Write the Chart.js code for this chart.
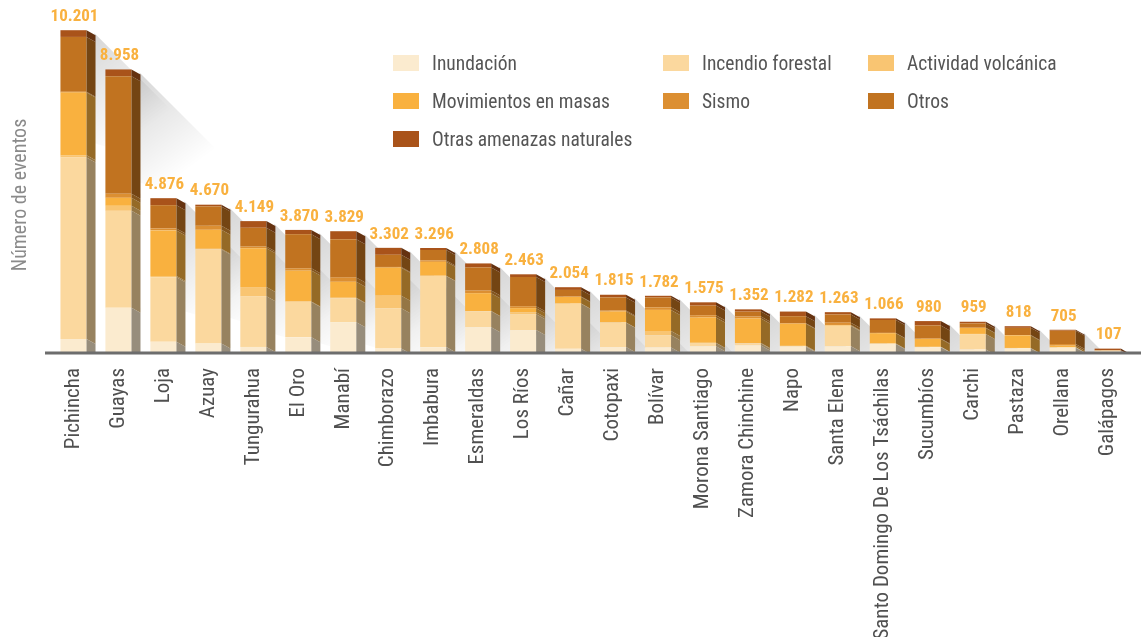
<!DOCTYPE html>
<html lang="es">
<head>
<meta charset="utf-8">
<script src="https://cdn.jsdelivr.net/npm/chart.js@4"></script>
<style>
  html, body { margin: 0; padding: 0; background: #fff; }
  #wrap { position: relative; width: 1141px; height: 637px; }
  #legend {
    position: absolute; left: 393px; top: 44px;
    display: grid; grid-template-columns: 270px 205px auto; grid-auto-rows: 38px;
    font-family: 'Liberation Sans Narrow', 'Roboto Condensed', 'DejaVu Sans Condensed', Roboto, sans-serif;
    font-size: 19.5px; color: #555;
  }
  #legend .item { display: flex; align-items: center; white-space: nowrap; }
  #legend .box { width: 26px; height: 16px; margin-right: 13px; flex: none; }
</style>
</head>
<body>
<div id="wrap">
  <canvas id="chart"></canvas>
  <div id="legend"></div>
</div>
<script>
// Provincias
const provincias = ['Pichincha', 'Guayas', 'Loja', 'Azuay', 'Tungurahua', 'El Oro', 'Manabí', 'Chimborazo',
  'Imbabura', 'Esmeraldas', 'Los Ríos', 'Cañar', 'Cotopaxi', 'Bolívar', 'Morona Santiago', 'Zamora Chinchine',
  'Napo', 'Santa Elena', 'Santo Domingo De Los Tsáchilas', 'Sucumbíos', 'Carchi', 'Pastaza', 'Orellana', 'Galápagos'];

// Número de eventos por tipo de amenaza
const inundacion = [413, 1400, 325, 273, 161, 464, 945, 111, 155, 787, 694, 100, 156, 144, 179, 209, 170, 179, 256, 149, 78, 113, 135, 37];
const incendio = [5752, 3075, 2045, 2977, 1603, 1124, 759, 1275, 2254, 502, 506, 1427, 773, 386, 104, 63, 15, 648, 10, 10, 490, 10, 10, 5];
const volcanica = [75, 159, 41, 21, 295, 16, 16, 399, 10, 10, 63, 10, 10, 135, 10, 10, 10, 10, 5, 5, 5, 5, 5, 0];
const movimientos = [1983, 254, 1444, 604, 1233, 976, 506, 889, 438, 565, 126, 209, 344, 670, 800, 778, 700, 20, 325, 250, 188, 398, 52, 5];
const sismo = [30, 127, 63, 127, 54, 72, 139, 22, 44, 85, 63, 10, 31, 81, 73, 63, 20, 72, 10, 10, 10, 10, 52, 0];
const otros = [1735, 3730, 737, 614, 593, 1083, 1211, 386, 332, 733, 926, 212, 416, 313, 305, 157, 220, 262, 408, 420, 136, 230, 420, 10];
const otrasAmenazas = [213, 213, 221, 54, 210, 135, 253, 220, 63, 126, 85, 86, 85, 53, 104, 72, 147, 72, 52, 136, 52, 52, 31, 50];

const series = ['Inundación', 'Incendio forestal', 'Actividad volcánica', 'Movimientos en masas', 'Sismo', 'Otros', 'Otras amenazas naturales'];
const colores = ['#fbebcf', '#fbd89e', '#f9c572', '#f9b13f', '#dc8f32', '#c17320', '#a9531a'];
const valores = [inundacion, incendio, volcanica, movimientos, sismo, otros, otrasAmenazas];

const FONT = "'Liberation Sans Narrow', 'Roboto Condensed', 'DejaVu Sans Condensed', Roboto, sans-serif";

// color oscuro para la cara lateral
function oscuro(hex, f) {
  const n = parseInt(hex.slice(1), 16);
  const r = Math.round(((n >> 16) & 255) * f), g = Math.round(((n >> 8) & 255) * f), b = Math.round((n & 255) * f);
  return `rgb(${r},${g},${b})`;
}

function fmt(v) {
  return String(v).replace(/\B(?=(\d{3})+(?!\d))/g, '.');
}

// sombra, cara lateral, totales y título del eje
const efecto3d = {
  id: 'efecto3d',
  beforeDatasetsDraw(chart) {
    const { ctx, chartArea } = chart;
    const top = chart.getDatasetMeta(valores.length - 1).data;
    ctx.save();
    ctx.beginPath();
    ctx.rect(chartArea.left, chartArea.top - 20, chartArea.right - chartArea.left + 20, chartArea.bottom - chartArea.top + 20);
    ctx.clip();
    top.forEach((el) => {
      const p = el.getProps(['x', 'y', 'width'], true);
      const xs = p.x + p.width / 2 + 8, yt = p.y + 3;
      const L = 115;
      const g = ctx.createLinearGradient(xs, yt, xs + L * 0.55, yt + L * 0.75);
      g.addColorStop(0, 'rgba(0,0,0,0.16)');
      g.addColorStop(1, 'rgba(0,0,0,0)');
      ctx.fillStyle = g;
      ctx.beginPath();
      ctx.moveTo(xs, yt);
      ctx.lineTo(xs + L, yt + L);
      ctx.lineTo(xs + L, yt + L + 30);
      ctx.lineTo(xs, yt + 110);
      ctx.closePath();
      ctx.fill();
    });
    ctx.restore();
  },
  afterDatasetsDraw(chart) {
    const { ctx, chartArea } = chart;
    const dx = 9, dy = 5;
    ctx.save();
    ctx.beginPath();
    ctx.rect(chartArea.left, 0, chartArea.right - chartArea.left + 20, chartArea.bottom);
    ctx.clip();
    valores.forEach((_, i) => {
      chart.getDatasetMeta(i).data.forEach((el) => {
        const p = el.getProps(['x', 'y', 'base', 'width'], true);
        const t = Math.min(p.y, p.base), b = Math.max(p.y, p.base);
        if (b - t < 0.3) return;
        const xr = p.x + p.width / 2;
        ctx.fillStyle = oscuro(colores[i], 0.6);
        ctx.beginPath();
        ctx.moveTo(xr, t);
        ctx.lineTo(xr + dx, t + dy);
        ctx.lineTo(xr + dx, b + dy);
        ctx.lineTo(xr, b);
        ctx.closePath();
        ctx.fill();
      });
    });
    ctx.restore();

    // línea base
    ctx.save();
    ctx.strokeStyle = '#6d6d6d';
    ctx.lineWidth = 3;
    ctx.beginPath();
    ctx.moveTo(45, chartArea.bottom + 1);
    ctx.lineTo(chart.width, chartArea.bottom + 1);
    ctx.stroke();
    ctx.restore();

    // totales
    const y = chart.scales.y;
    ctx.save();
    ctx.font = `bold 17px ${FONT}`;
    ctx.fillStyle = '#f9b13f';
    ctx.textAlign = 'center';
    ctx.textBaseline = 'bottom';
    chart.getDatasetMeta(0).data.forEach((el, j) => {
      const total = valores.reduce((s, arr) => s + arr[j], 0);
      ctx.fillText(fmt(total), el.x + 1, y.getPixelForValue(total) - 5);
    });
    ctx.restore();

    // título eje y
    ctx.save();
    ctx.translate(21, 195);
    ctx.rotate(-Math.PI / 2);
    ctx.font = `20px ${FONT}`;
    ctx.fillStyle = '#8a8a8a';
    ctx.textAlign = 'center';
    ctx.textBaseline = 'middle';
    ctx.fillText('Número de eventos', 0, 0);
    ctx.restore();
  }
};

new Chart(document.getElementById('chart'), {
  type: 'bar',
  data: {
    labels: provincias,
    datasets: series.map((s, i) => ({
      label: s,
      data: valores[i],
      backgroundColor: colores[i],
      borderWidth: 0,
      barPercentage: 0.58,
      categoryPercentage: 1
    }))
  },
  options: {
    responsive: true,
    maintainAspectRatio: false,
    animation: false,
    layout: { padding: { top: 5, right: 8, left: 0, bottom: 0 } },
    plugins: {
      legend: { display: false },
      tooltip: { enabled: false }
    },
    scales: {
      x: {
        stacked: true,
        grid: { display: false },
        border: { display: false },
        ticks: {
          minRotation: 90, maxRotation: 90, autoSkip: false, padding: 8,
          color: '#505050', font: { family: FONT, size: 21 }
        },
        afterFit(scale) { scale.height = 285; }
      },
      y: {
        stacked: true,
        min: 0, max: 11000,
        grid: { display: false },
        border: { display: false },
        ticks: { display: false },
        afterFit(scale) { scale.width = 51; }
      }
    }
  },
  plugins: [efecto3d]
});

// leyenda
const leyenda = document.getElementById('legend');
series.forEach((s, i) => {
  const d = document.createElement('div');
  d.className = 'item';
  d.innerHTML = `<span class="box" style="background:${colores[i]}"></span><span>${s}</span>`;
  leyenda.appendChild(d);
});
</script>
</body>
</html>
